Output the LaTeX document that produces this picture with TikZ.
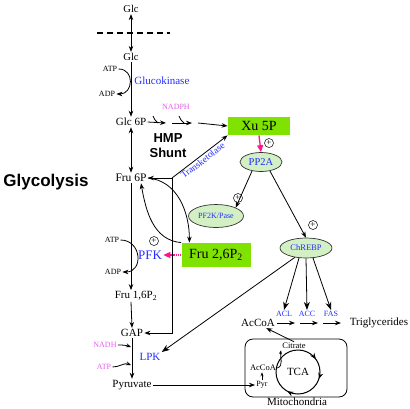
\documentclass[tikz,border=0pt]{standalone}
\usepackage{fontspec}
\setmainfont{Liberation Serif}
\setsansfont{Liberation Sans}
\usepackage{tikz}
\usetikzlibrary{arrows.meta, shapes.geometric, decorations.markings}
\definecolor{xugreen}{RGB}{128,226,0}
\definecolor{enzfill}{RGB}{210,240,195}
\definecolor{enzblue}{RGB}{35,45,255}
\definecolor{cofvio}{RGB}{225,95,235}
\definecolor{actpink}{RGB}{255,20,140}
\newcommand{\fs}[1]{\fontsize{#1}{#1}\selectfont}
\tikzset{
    metab/.style={inner sep=1pt, font=\fs{11}},
    cofac/.style={inner sep=1pt, font=\fs{8}},
    enzlabel/.style={inner sep=1pt, text=enzblue, font=\fs{11}},
    greenbox/.style={rectangle, fill=xugreen, inner sep=1pt, font=\fs{14}},
    enzyme/.style={ellipse, draw=black!80, line width=0.7pt, fill=enzfill, inner sep=0pt, text=enzblue},
    plusmark/.style={circle, draw, line width=0.5pt, inner sep=0pt, minimum size=9pt, font=\fs{9}},
    actarrow/.style={actpink, line width=1.3pt, -{Triangle[length=7pt,width=6pt]}}
}

\begin{document}
\begin{tikzpicture}[x=1pt, y=-1pt, line width=0.8pt, >={Stealth[length=6pt,width=4.5pt]}]
\useasboundingbox (0,0) rectangle (410,408);
% glucose entry
\node[metab, font=\fs{10.5}] (glcout) at (131,9) {Glc};
\node[metab, font=\fs{10.5}] (glcin) at (131,57) {Glc};
\coordinate (memL) at (97,33);
\coordinate (memR) at (170,33);
\draw[line width=1.1pt, dash pattern=on 6pt off 4pt] (memL) -- (memR);
\draw[<->] (glcout) -- (glcin);
\node[metab] (glc6p) at (131,122) {Glc 6P};
\draw[->] (glcin) -- (glc6p);
\node[cofac] (atp1) at (110,69) {ATP};
\node[cofac] (adp1) at (107,94) {ADP};
\draw[->] (atp1.east) to[out=0, in=0, looseness=1.7] (adp1.east);
\node[enzlabel, anchor=west] (gk) at (133,81) {Glucokinase};

% HMP shunt
\node[cofac, text=cofvio] (nadph) at (176,107) {NADPH};
\node[font=\sffamily\bfseries\fs{13}, align=center, inner sep=0pt] (hmp) at (168,146) {HMP\\[2pt]Shunt};
\node[greenbox, minimum width=62pt, minimum height=18pt] (xu5p) at (259,126) {Xu 5P};
\coordinate (h1) at (166,123);
\coordinate (h2) at (172,123);
\coordinate (h3) at (192,123);
\coordinate (h4) at (198,123);
\draw[->] (glc6p.east) -- (h1);
\draw (h1) ++(-8,0) to[out=150, in=-60] ++(-5,-7);
\draw[->] (h2) -- (h3);
\draw (h3) ++(-8,0) to[out=150, in=-60] ++(-5,-7);
\draw[->] (h4) -- (xu5p.west);

\node[metab, font=\fs{11.5}] (fru6p) at (131,178) {Fru 6P};
\draw[<->] (glc6p) -- (fru6p);
\node[font=\sffamily\bfseries\fs{17}] (glyco) at (46,182) {Glycolysis};

% transketolase branch
\coordinate (tk) at (172,178);
\node[metab] (gap) at (132,333) {GAP};
\draw[->] (tk) -- node[sloped, below, text=enzblue, font=\fs{9.5}, inner sep=1pt] {Transketolase} (xu5p.south west);
\draw[->] (tk) -- (fru6p.east);
\draw[->] (tk) |- (gap.east);

% PP2A signalling
\node[enzyme, minimum width=42pt, minimum height=19pt, font=\fs{10.5}] (pp2a) at (261,162) {PP2A};
\node[enzyme, minimum width=55pt, minimum height=23pt, font=\fs{8}] (pf2k) at (216,216) {PF2K/Pase};
\node[enzyme, minimum width=52pt, minimum height=20pt, font=\fs{8.5}] (chrebp) at (306,248) {ChREBP};
\draw[actarrow] (xu5p.south) -- (pp2a.north);
\node[plusmark] (plus1) at (269,143) {+};
\draw[->] (pp2a.225) -- (pf2k.north east);
\node[plusmark] (plus2) at (238,198) {+};
\draw[->] (pp2a.-45) -- (chrebp.north);
\node[plusmark] (plus3) at (313,225) {+};

% Fru 2,6P2 and PFK
\node[greenbox, minimum width=69pt, minimum height=24pt] (fru26) at (216,255) {Fru 2,6P\textsubscript{2}};
\node[text=enzblue, font=\fs{13}, inner sep=1pt] (pfk) at (150,255) {PFK};
\node[plusmark] (plus4) at (154,241) {+};
\draw[->] (fru6p.east) to[out=-5, in=90] (fru26.155);
\draw[->] (fru26.north west) to[out=175, in=-80] ([xshift=10pt]fru6p.south);
\draw[actpink, line width=1.2pt, densely dotted, -{Triangle[length=7pt,width=6pt]}] (fru26.west) -- (pfk.east);

% lower glycolysis
\node[metab] (fru16) at (136,296) {Fru 1,6P\textsubscript{2}};
\draw[->] (fru6p.south) -- (fru6p.south |- fru16.north);
\node[cofac] (atp2) at (112,240) {ATP};
\node[cofac] (adp2) at (113,272) {ADP};
\draw[->] (atp2.east) to[out=0, in=0, looseness=1.7] (adp2.east);
\draw[->] (fru6p.south |- fru16.south) -- (gap.north);
\node[metab] (pyruvate) at (132,385) {Pyruvate};
\draw[->] (gap) -- (pyruvate);
\node[cofac, text=cofvio] (nadh) at (105,345) {NADH};
\node[cofac, text=cofvio] (atp3) at (104,367) {ATP};
\coordinate (n1) at (131,347);
\coordinate (n2) at (131,365);
\draw[-{Stealth[length=5pt,width=4pt]}] (nadh.east) to[out=0, in=160] (n1);
\draw[-{Stealth[length=5pt,width=4pt]}] (atp3.east) to[out=0, in=160] (n2);
\node[text=enzblue, font=\fs{11}, inner sep=1pt] (lpk) at (150,357) {LPK};
\draw[->, >={Stealth[length=8pt,width=6pt]}] (chrebp.220) -- (lpk.north east);

% lipogenesis
\node[metab] (accoa) at (258,323) {AcCoA};
\node[metab] (trig) at (379,323) {Triglycerides};
\node[text=enzblue, font=\fs{8}, inner sep=1pt] (acl) at (284,314) {ACL};
\node[text=enzblue, font=\fs{8}, inner sep=1pt] (acc) at (307,314) {ACC};
\node[text=enzblue, font=\fs{8}, inner sep=1pt] (fas) at (331,314) {FAS};
\draw[->, >={Stealth[length=8pt,width=6pt]}] (chrebp.235) -- (acl.north);
\draw[->, >={Stealth[length=8pt,width=6pt]}] (chrebp.south) -- (acc.north);
\draw[->, >={Stealth[length=8pt,width=6pt]}] (chrebp.305) -- (fas.north);
\coordinate (s1) at (277,323);
\coordinate (e1) at (295,323);
\coordinate (s2) at (300,323);
\coordinate (e2) at (318,323);
\coordinate (s3) at (323,323);
\coordinate (e3) at (341,323);
\draw[->] (s1) -- (e1);
\draw[->] (s2) -- (e2);
\draw[->] (s3) -- (e3);

% mitochondria
\node[draw, rounded corners=8pt, line width=0.8pt, minimum width=102pt, minimum height=58pt] (mito) at (296,368) {};
\node[metab] (mitolbl) at (297,402) {Mitochondria};
\node[circle, draw, line width=1pt, minimum size=44pt, inner sep=0pt, font=\fs{11}] (tca) at (298,372) {TCA};
\path[postaction={decorate}, decoration={markings,
    mark=at position 0.05 with {\arrow[line width=0.8pt]{Stealth[length=6pt,width=5pt]}},
    mark=at position 0.33 with {\arrow[line width=0.8pt]{Stealth[length=6pt,width=5pt]}},
    mark=at position 0.9 with {\arrow[line width=0.8pt]{Stealth[length=6pt,width=5pt]}}}]
    (tca.center) circle (22);
\node[font=\fs{8.5}, inner sep=1pt] (citrate) at (294,346) {Citrate};
\node[font=\fs{8.5}, inner sep=1pt] (accoam) at (263,368) {AcCoA};
\node[font=\fs{8}, inner sep=1pt] (pyr) at (262,385) {Pyr};
\draw[->, >={Stealth[length=4pt,width=3pt]}] (pyr.north) -- (accoam.south -| pyr.north);
\draw[->, >={Stealth[length=4pt,width=3pt]}] (accoam.east) to[out=20, in=-100] (citrate.south west);
\draw[->] (citrate.north) -- ([xshift=-10pt]accoa.south east);
\draw[->] (pyruvate.east) -- (pyr.west);
\end{tikzpicture}
\end{document}
